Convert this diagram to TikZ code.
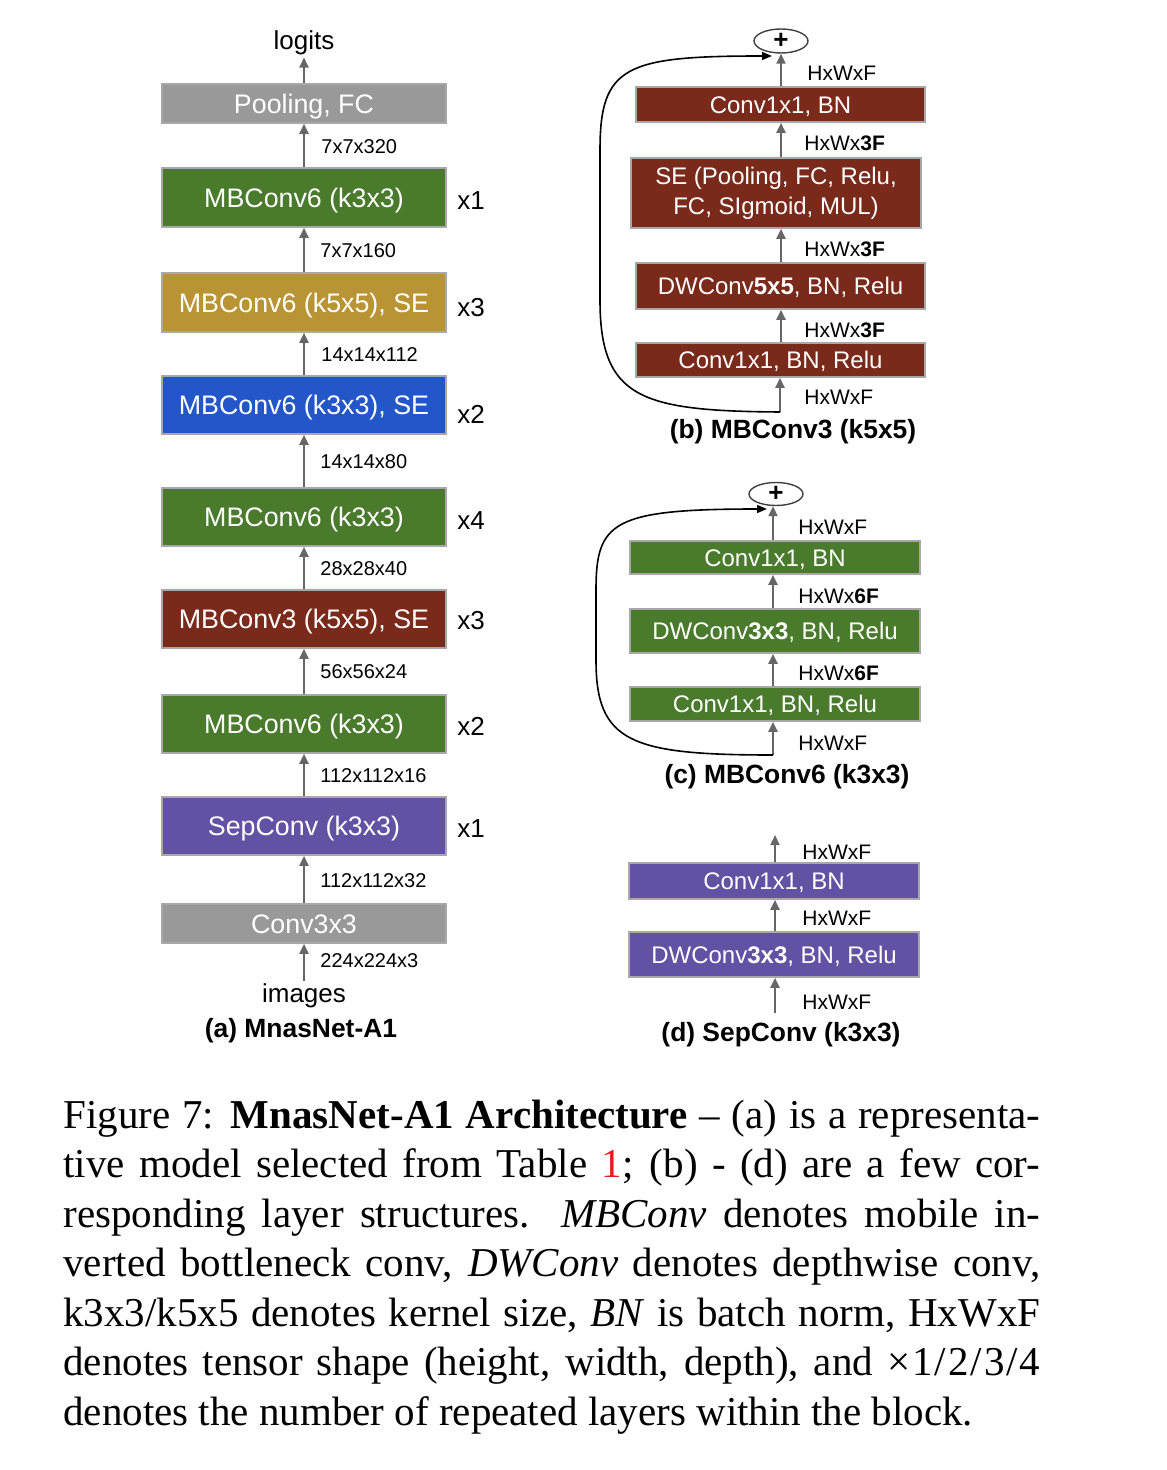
\documentclass[tikz,border=0pt]{standalone}
\usepackage{fontspec}
\setmainfont{Liberation Serif}
\newfontfamily\arial{Liberation Sans}
\usetikzlibrary{arrows.meta,shapes.geometric}
\definecolor{cgray}{HTML}{999999}
\definecolor{cgreen}{HTML}{4A7A2C}
\definecolor{cgold}{HTML}{B89434}
\definecolor{cblue}{HTML}{2356C8}
\definecolor{cred}{HTML}{7A2A1A}
\definecolor{cpurple}{HTML}{6351A3}
\definecolor{carrow}{HTML}{666666}
\definecolor{cborder}{HTML}{A8A8A8}
\definecolor{linkred}{HTML}{E41E1E}
\newcommand{\myfs}[1]{\fontsize{#1pt}{#1pt}\selectfont}
\begin{document}
\begin{tikzpicture}[x=0.5pt,y=-0.5pt,
  blk/.style={draw=cborder, line width=0.8pt, text=white, inner sep=0pt, font=\arial\myfs{13.4}},
  ablk/.style={blk, minimum width=142pt, text height=9.6pt, text depth=0pt},
  pblk/.style={blk, font=\arial\myfs{12}, minimum width=145pt},
  pone/.style={pblk, text height=8.6pt, text depth=0pt},
  dimlbl/.style={font=\arial\myfs{10}, anchor=west, inner sep=0pt},
  hwlbl/.style={font=\arial\myfs{10.5}, anchor=west, inner sep=0pt},
  replbl/.style={font=\arial\myfs{13}, anchor=west, inner sep=0pt},
  iolbl/.style={font=\arial\myfs{13}, inner sep=1pt},
  ttllbl/.style={font=\arial\bfseries\myfs{13.2}, inner sep=0pt},
  arrw/.style={draw=carrow, line width=1pt, -{Triangle[length=5pt,width=4.5pt]}},
  skiparr/.style={draw=black, line width=0.8pt, -{Triangle[length=5pt,width=4pt]}},
  plusnode/.style={ellipse, draw=black!75, line width=0.7pt, minimum width=27pt, minimum height=12pt, inner sep=0pt, font=\arial\bfseries\myfs{13}},
  capline/.style={anchor=base west, inner sep=0pt, font=\myfs{20.5}}
]
\useasboundingbox (0,0) rectangle (1166,1470);

% ---------------- (a) MnasNet-A1 ----------------
\node[iolbl] (logits) at (304,43) {logits};
\node[ablk, fill=cgray,   minimum height=19.5pt] (pool) at (304,103.5) {Pooling, FC};
\node[ablk, fill=cgreen,  minimum height=29.5pt] (a1) at (304,197.5) {MBConv6 (k3x3)};
\node[ablk, fill=cgold,   minimum height=29.5pt] (a2) at (304,302.5) {MBConv6 (k5x5), SE};
\node[ablk, fill=cblue,   minimum height=29pt]   (a3) at (304,405) {MBConv6 (k3x3), SE};
\node[ablk, fill=cgreen,  minimum height=29pt]   (a4) at (304,517) {MBConv6 (k3x3)};
\node[ablk, fill=cred,    minimum height=29pt]   (a5) at (304,619) {MBConv3 (k5x5), SE};
\node[ablk, fill=cgreen,  minimum height=29pt]   (a6) at (304,724) {MBConv6 (k3x3)};
\node[ablk, fill=cpurple, minimum height=29pt]   (a7) at (304,826) {SepConv (k3x3)};
\node[ablk, fill=cgray,   minimum height=19.5pt] (stem) at (304,923.5) {Conv3x3};
\node[iolbl] (images) at (304,996) {images};
\node[ttllbl] (ta) at (301,1031) {(a) MnasNet-A1};

\draw[arrw] (pool.north) -- (logits.south);
\draw[arrw] (a1.north) -- (pool.south);
\draw[arrw] (a2.north) -- (a1.south);
\draw[arrw] (a3.north) -- (a2.south);
\draw[arrw] (a4.north) -- (a3.south);
\draw[arrw] (a5.north) -- (a4.south);
\draw[arrw] (a6.north) -- (a5.south);
\draw[arrw] (a7.north) -- (a6.south);
\draw[arrw] (stem.north) -- (a7.south);
\draw[arrw] (images.north) -- (stem.south);

\node[dimlbl] (d1) at (321,147) {7x7x320};
\node[dimlbl] (d2) at (320,251) {7x7x160};
\node[dimlbl] (d3) at (321,355) {14x14x112};
\node[dimlbl] (d4) at (320,462) {14x14x80};
\node[dimlbl] (d5) at (320,569) {28x28x40};
\node[dimlbl] (d6) at (320,672) {56x56x24};
\node[dimlbl] (d7) at (320,776) {112x112x16};
\node[dimlbl] (d8) at (320,881) {112x112x32};
\node[dimlbl] (d9) at (320,961) {224x224x3};

\node[replbl] (r1) at (457,201) {x1};
\node[replbl] (r2) at (457,308) {x3};
\node[replbl] (r3) at (457,414) {x2};
\node[replbl] (r4) at (457,521) {x4};
\node[replbl] (r5) at (457,621) {x3};
\node[replbl] (r6) at (457,726) {x2};
\node[replbl] (r7) at (457,829) {x1};

% ---------------- (b) MBConv3 (k5x5) ----------------
\node[plusnode] (plusb) at (781,41) {+};
\node[pone, fill=cred, minimum width=144.5pt, minimum height=17.5pt] (bc1) at (780.5,104.5) {Conv1x1, BN};
\node[pblk, fill=cred, minimum width=145pt, minimum height=35pt, align=center, font=\arial\fontsize{12pt}{15pt}\selectfont] (bse) at (776,193) {SE (Pooling, FC, Relu,\\FC, SIgmoid, MUL)};
\node[pone, fill=cred, minimum width=144.5pt, minimum height=23pt] (bdw) at (780.5,286) {DWConv\textbf{5x5}, BN, Relu};
\node[pone, fill=cred, minimum width=144.5pt, minimum height=17pt] (bc0) at (780.5,360) {Conv1x1, BN, Relu};
\coordinate (bin) at (780,412);
\coordinate (bskipend) at (772,56);
\draw[arrw] (bc1.north -| plusb) -- (plusb.south);
\draw[arrw] (bse.north -| plusb) -- (bc1.south -| plusb);
\draw[arrw] (bdw.north -| plusb) -- (bse.south -| plusb);
\draw[arrw] (bc0.north -| plusb) -- (bdw.south -| plusb);
\draw[arrw] (bin) -- (bc0.south -| bin);
\draw[skiparr] (bin) .. controls (640,411) and (600,398) .. (600,300) -- (600,150) .. controls (600,66) and (625,56) .. (bskipend);
\node[hwlbl] (bh1) at (807,73) {HxWxF};
\node[hwlbl] (bh2) at (804,143) {HxWx\textbf{3F}};
\node[hwlbl] (bh3) at (804,249) {HxWx\textbf{3F}};
\node[hwlbl] (bh4) at (804,330) {HxWx\textbf{3F}};
\node[hwlbl] (bh5) at (804,397) {HxWxF};
\node[ttllbl] (tb) at (793,432) {(b) MBConv3 (k5x5)};

% ---------------- (c) MBConv6 (k3x3) ----------------
\node[plusnode, minimum height=11.5pt] (plusc) at (776,494) {+};
\node[pone, fill=cgreen, minimum height=16.5pt] (cc1) at (775,557.5) {Conv1x1, BN};
\node[pone, fill=cgreen, minimum height=22pt] (cdw) at (775,631) {DWConv\textbf{3x3}, BN, Relu};
\node[pone, fill=cgreen, minimum height=17pt] (cc0) at (775,704) {Conv1x1, BN, Relu};
\coordinate (cin) at (773,755);
\coordinate (cskipend) at (767,509);
\draw[arrw] (cc1.north -| cin) -- (plusc.south -| cin);
\draw[arrw] (cdw.north -| cin) -- (cc1.south -| cin);
\draw[arrw] (cc0.north -| cin) -- (cdw.south -| cin);
\draw[arrw] (cin) -- (cc0.south -| cin);
\draw[skiparr] (cin) .. controls (630,755) and (596,742) .. (596,660) -- (596,590) .. controls (596,522) and (612,509) .. (cskipend);
\node[hwlbl] (ch1) at (798,527) {HxWxF};
\node[hwlbl] (ch2) at (798,596) {HxWx\textbf{6F}};
\node[hwlbl] (ch3) at (798,673) {HxWx\textbf{6F}};
\node[hwlbl] (ch4) at (798,743) {HxWxF};
\node[ttllbl] (tc) at (787,777) {(c) MBConv6 (k3x3)};

% ---------------- (d) SepConv (k3x3) ----------------
\node[pone, fill=cpurple, minimum height=18pt] (dc1) at (774,881) {Conv1x1, BN};
\node[pone, fill=cpurple, minimum height=22.5pt] (ddw) at (774,954.5) {DWConv\textbf{3x3}, BN, Relu};
\coordinate (dout) at (775,835);
\coordinate (din) at (775,1013);
\draw[arrw] (dc1.north -| dout) -- (dout);
\draw[arrw] (ddw.north -| dout) -- (dc1.south -| dout);
\draw[arrw] (din) -- (ddw.south -| din);
\node[hwlbl] (dh1) at (802,852) {HxWxF};
\node[hwlbl] (dh2) at (802,918) {HxWxF};
\node[hwlbl] (dh3) at (802,1002) {HxWxF};
\node[ttllbl] (td) at (781,1035) {(d) SepConv (k3x3)};

% ---------------- caption ----------------
\node[capline] (c1) at (63,1128) {\hbox to 488.5pt{Figure 7: \textbf{MnasNet-A1 Architecture} – (a) is a representa-}};
\node[capline] (c2) at (63,1177.5) {\hbox to 488.5pt{tive model selected from Table \textcolor{linkred}{1}; (b) - (d) are a few cor-}};
\node[capline] (c3) at (63,1227) {\hbox to 488.5pt{responding layer structures. \textit{MBConv} denotes mobile in-}};
\node[capline] (c4) at (63,1276.5) {\hbox to 488.5pt{verted bottleneck conv, \textit{DWConv} denotes depthwise conv,}};
\node[capline] (c5) at (63,1326) {\hbox to 488.5pt{k3x3/k5x5 denotes kernel size, \textit{BN} is batch norm, HxWxF}};
\node[capline] (c6) at (63,1375.5) {\hbox to 488.5pt{denotes tensor shape (height, width, depth), and ×\kern1pt1\kern1pt/\kern1pt2\kern1pt/\kern1pt3\kern1pt/\kern1pt4}};
\node[capline] (c7) at (63,1425) {denotes the number of repeated layers within the block.};
\end{tikzpicture}
\end{document}
